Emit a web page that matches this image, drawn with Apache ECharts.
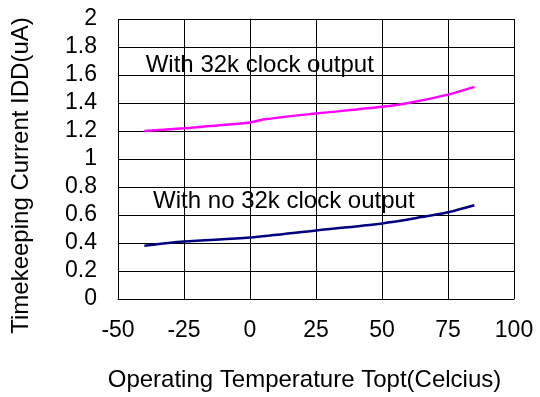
<!DOCTYPE html>
<html>
<head>
<meta charset="utf-8">
<title>Timekeeping Current</title>
<script src="https://cdn.jsdelivr.net/npm/echarts@6/dist/echarts.min.js"></script>
<style>
  html,body{margin:0;padding:0;background:#fff;}
  #chart{width:540px;height:397px;}
</style>
</head>
<body>
<div id="chart"></div>
<script>
  // temperature (C) / current (uA)
  var tempWithClock = [-40, -25, 0, 5, 25, 50, 60, 75, 85];
  var idWithClock = [1.20, 1.22, 1.26, 1.282, 1.325, 1.373, 1.40, 1.46, 1.515];
  var tempNoClock = [-40, -25, 0, 25, 50, 65, 75, 85];
  var idNoClock = [0.38, 0.41, 0.44, 0.49, 0.54, 0.585, 0.62, 0.67];

  var xTicks = [-50, -25, 0, 25, 50, 75, 100];
  var yTicks = [0, 0.2, 0.4, 0.6, 0.8, 1, 1.2, 1.4, 1.6, 1.8, 2];

  // where the two captions sit (data coords)
  var captionWith = ['With 32k clock output', -39.5, 1.67];
  var captionNo = ['With no 32k clock output', -36.7, 0.695];

  function pairs(xs, ys){
    var out = [];
    for(var i = 0; i < xs.length; i++){
      out.push([xs[i], ys[i]]);
    }
    return out;
  }

  function caption(c){
    return {
      coord: [c[1], c[2]],
      symbolSize: 0,
      label: {
        show: true,
        position: 'right',
        distance: 0,
        formatter: c[0],
        color: '#000',
        fontSize: 24,
        fontFamily: 'Liberation Sans'
      }
    };
  }

  var font = 'Liberation Sans';
  var chart = echarts.init(document.getElementById('chart'));

  var option = {
    backgroundColor: '#fff',
    animation: false,
    grid: {
      left: 118,
      right: 26,
      top: 19,
      bottom: 95
    },
    xAxis: {
      type: 'value',
      min: xTicks[0],
      max: xTicks[xTicks.length - 1],
      interval: xTicks[1] - xTicks[0],
      name: 'Operating Temperature Topt(Celcius)',
      nameLocation: 'middle',
      nameGap: 69,
      nameTextStyle: {
        color: '#000',
        fontSize: 24,
        fontFamily: font,
        padding: [0, 23, 0, 0]
      },
      axisLine: {lineStyle: {color: '#000', width: 1}},
      axisTick: {show: false},
      axisLabel: {
        color: '#000',
        fontSize: 23,
        fontFamily: font,
        margin: 20
      },
      splitLine: {show: true, lineStyle: {color: '#000', width: 1}}
    },
    yAxis: {
      type: 'value',
      min: yTicks[0],
      max: yTicks[yTicks.length - 1],
      interval: 0.2,
      name: 'Timekeeping Current IDD(uA)',
      nameLocation: 'middle',
      nameGap: 85,
      nameTextStyle: {
        color: '#000',
        fontSize: 24,
        fontFamily: font,
        padding: [0, 33, 0, 0]
      },
      axisLine: {show: true, lineStyle: {color: '#000', width: 1}},
      axisTick: {show: false},
      axisLabel: {
        color: '#000',
        fontSize: 23,
        fontFamily: font,
        margin: 21
      },
      splitLine: {show: true, lineStyle: {color: '#000', width: 1}}
    },
    series: [{
      name: 'With 32k clock output',
      type: 'line',
      smooth: 0.3,
      showSymbol: false,
      data: pairs(tempWithClock, idWithClock),
      lineStyle: {color: '#ff00ff', width: 2.5},
      itemStyle: {color: '#ff00ff'},
      markPoint: {
        symbol: 'circle',
        data: [caption(captionWith)]
      },
      z: 3
    }, {
      name: 'With no 32k clock output',
      type: 'line',
      smooth: 0.3,
      showSymbol: false,
      data: pairs(tempNoClock, idNoClock),
      lineStyle: {color: '#000080', width: 2.5},
      itemStyle: {color: '#000080'},
      markPoint: {
        symbol: 'circle',
        data: [caption(captionNo)]
      },
      z: 3
    }]
  };

  chart.setOption(option);
</script>
</body>
</html>
